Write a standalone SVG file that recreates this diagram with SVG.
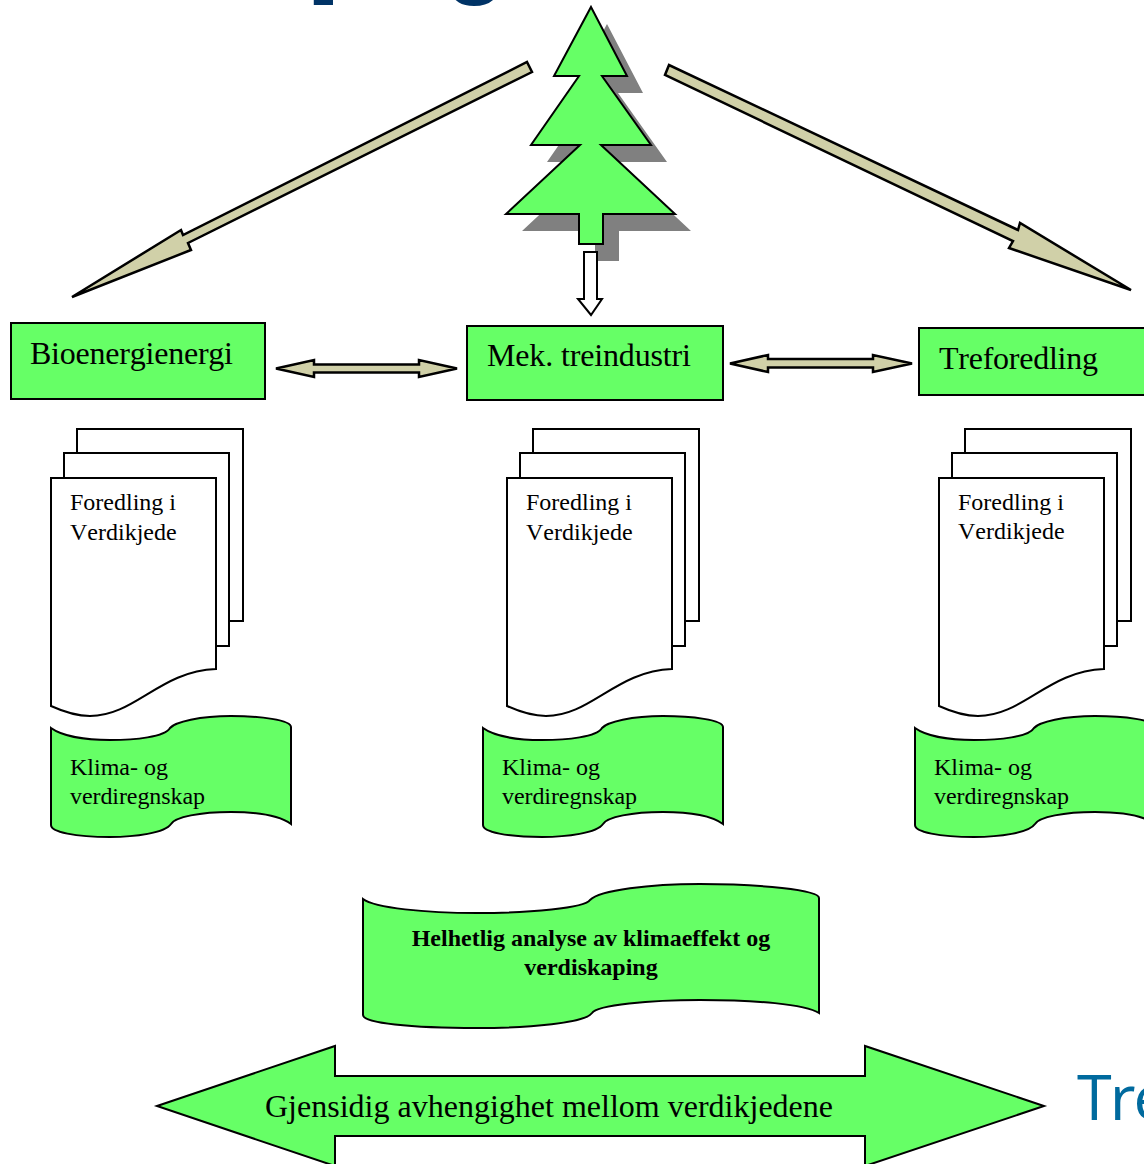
<svg xmlns="http://www.w3.org/2000/svg" xmlns:xlink="http://www.w3.org/1999/xlink" width="1144" height="1164" viewBox="0 0 1144 1164">
<style>
.g{fill:#66ff66;stroke:#000;stroke-width:2;stroke-linejoin:miter}
.b{fill:#d0d0a8;stroke:#000;stroke-width:2.500;stroke-linejoin:miter}
.w{fill:#fff;stroke:#000;stroke-width:2}
text{font-family:"Liberation Serif","Times New Roman",serif;fill:#000;font-kerning:none}
.l{font-size:32px}
.s{font-size:24px}
.h{font-size:24px;font-weight:bold;text-anchor:middle}
.t{font-family:"Liberation Sans",Arial,sans-serif;font-weight:bold;fill:#003366}
</style>
<defs>
<g id="stack">
<path class="w" d="M77,429H243V621H229V453H77Z"/>
<path class="w" d="M64,453H229V646H216V478H64Z"/>
<path class="w" d="M51,478H216V669C160,671 135,716 90,716C75,716 62,711 51,706Z"/>
</g>
<path id="wave" class="g" d="M51,728C62,736 85,740 110,740C135,740 165,737 170,728C175,722 200,716 231,716C260,716 291,720 291,727V824C280,816 260,812 231,812C200,812 175,817 171,824C165,833 135,837 110,837C75,837 51,832 51,825Z"/>
</defs>
<g id="title-fragment">
<text class="t" x="304" y="-24" font-size="140">p</text>
<text class="t" x="445" y="-15" font-size="100">g</text>
</g>
<g id="tree">
<polygon fill="#808080" transform="translate(16,17)" points="591,7 627,76 602,76 651,145 601,145 675,214 603,214 603,244 579,244 579,214 506,214 580,145 531,145 579,76 554,76"/>
<polygon class="g" points="591,7 627,76 602,76 651,145 601,145 675,214 603,214 603,244 579,244 579,214 506,214 580,145 531,145 579,76 554,76"/>
</g>
<g id="connectors">
<polygon class="b" points="527,62 532,72 188,243 191,250 72,297 181,230 183,235"/>
<polygon class="b" points="669,65 665,75 1013,241 1009,248 1131,290 1020,223 1018,230"/>
<polygon class="w" points="584,252 597,252 597,299 602,299 591,315 578,299 584,299"/>
<polygon class="b" points="276,368.500 314,360 314,364.500 419,364.500 419,360 457,368.500 419,377 419,372.500 314,372.500 314,377"/>
<polygon class="b" points="730,363.500 768,355 768,359 873,359 873,355 912,363.500 873,372 873,367.500 768,367.500 768,372"/>
</g>
<g id="node-bioenergi">
<rect class="g" x="11" y="323" width="254" height="76"/>
<text class="l" x="30" y="364" textLength="203">Bioenergienergi</text>
</g>
<g id="node-mek">
<rect class="g" x="467" y="326" width="256" height="74"/>
<text class="l" x="487" y="366" textLength="204">Mek. treindustri</text>
</g>
<g id="node-treforedling">
<rect class="g" x="919" y="328" width="230" height="67"/>
<text class="l" x="939" y="369" textLength="159">Treforedling</text>
</g>
<g id="stack-1">
<use href="#stack" xlink:href="#stack"/>
<text class="s" x="70" y="510">Foredling i</text>
<text class="s" x="70" y="540">Verdikjede</text>
</g>
<g id="stack-2">
<use href="#stack" xlink:href="#stack" x="456"/>
<text class="s" x="526" y="510">Foredling i</text>
<text class="s" x="526" y="540">Verdikjede</text>
</g>
<g id="stack-3">
<use href="#stack" xlink:href="#stack" x="888"/>
<text class="s" x="958" y="510">Foredling i</text>
<text class="s" x="958" y="539">Verdikjede</text>
</g>
<g id="wave-1">
<use href="#wave" xlink:href="#wave"/>
<text class="s" x="70" y="775">Klima- og</text>
<text class="s" x="70" y="804" textLength="135">verdiregnskap</text>
</g>
<g id="wave-2">
<use href="#wave" xlink:href="#wave" x="432"/>
<text class="s" x="502" y="775">Klima- og</text>
<text class="s" x="502" y="804" textLength="135">verdiregnskap</text>
</g>
<g id="wave-3">
<use href="#wave" xlink:href="#wave" x="864"/>
<text class="s" x="934" y="775">Klima- og</text>
<text class="s" x="934" y="804" textLength="135">verdiregnskap</text>
</g>
<g id="node-helhetlig">
<path class="g" d="M363,899C375,908 425,913 477,913C530,913 585,908 590,900C600,890 650,884 700,884C760,884 819,890 819,898V1013C805,1004 755,1000 700,1000C650,1000 597,1005 592,1013C585,1023 530,1028 477,1028C410,1028 363,1023 363,1015Z"/>
<text class="h" x="591" y="946">Helhetlig analyse av klimaeffekt og</text>
<text class="h" x="591" y="975">verdiskaping</text>
</g>
<g id="node-gjensidig">
<polygon class="g" points="157,1106 335,1046 335,1076 865,1076 865,1046 1044,1106 865,1166 865,1136 335,1136 335,1166"/>
<text class="l" x="265" y="1117" textLength="568">Gjensidig avhengighet mellom verdikjedene</text>
</g>
<text id="footer-fragment" x="1077" y="1120" style="font-family:'Open Sans','Liberation Sans',sans-serif;font-size:63px;fill:#006a9e;letter-spacing:-2px">Tre</text>
</svg>
